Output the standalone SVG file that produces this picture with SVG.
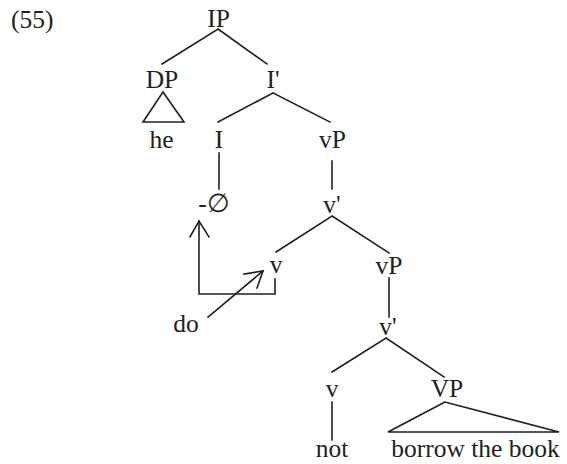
<svg xmlns="http://www.w3.org/2000/svg" width="567" height="464" viewBox="0 0 567 464">
<style>
text{font-family:"Liberation Serif","DejaVu Serif",serif;font-size:25.5px;fill:#231f20;text-anchor:middle}
.e{stroke:#231f20;stroke-width:1.6;fill:none;stroke-linecap:square}
</style>
<rect width="567" height="464" fill="#fff"/>
<text x="11" y="28" style="text-anchor:start">(55)</text>
<g id="IP"><text x="218.5" y="27">IP</text></g>
<g id="DP"><text x="162" y="88">DP</text><polygon class="e" points="163,92 143,122 184,122"/></g>
<g id="he"><text x="161.5" y="148">he</text></g>
<g id="Ibar"><text x="273" y="88">I'</text></g>
<g id="I"><text x="219" y="148">I</text></g>
<g id="null"><text x="214" y="212">-∅</text></g>
<g id="vP1"><text x="332.5" y="148">vP</text></g>
<g id="vbar1"><text x="332" y="213">v'</text></g>
<g id="v1"><text x="276" y="273">v</text></g>
<g id="do"><text x="186" y="332">do</text></g>
<g id="vP2"><text x="389" y="274">vP</text></g>
<g id="vbar2"><text x="388" y="335">v'</text></g>
<g id="v2"><text x="332" y="397">v</text></g>
<g id="not"><text x="332" y="457">not</text></g>
<g id="VP"><text x="447" y="397">VP</text><polygon class="e" points="445,402 388,432 559,432"/></g>
<g id="borrow"><text x="475.5" y="457">borrow the book</text></g>
<g id="connectors" class="e">
<path d="M218,29 L162,64 M218,29 L267,64"/>
<path d="M273,93 L218,122 M273,93 L330,122"/>
<path d="M219,153 L219,189"/>
<path d="M332,161 L332,189"/>
<path d="M332,216 L276,252 M332,216 L389,253"/>
<path d="M389,278 L389,317"/>
<path d="M386,338 L332,372 M386,338 L444,377"/>
<path d="M332,402 L332,440"/>
<path d="M275,279 L275,294 L199,294 L199,221"/>
<path d="M190,237 L199,221 L209,237"/>
<path d="M208,317 L263,271"/>
<path d="M244,274 L263,271 L257,288"/>
</g>
</svg>
